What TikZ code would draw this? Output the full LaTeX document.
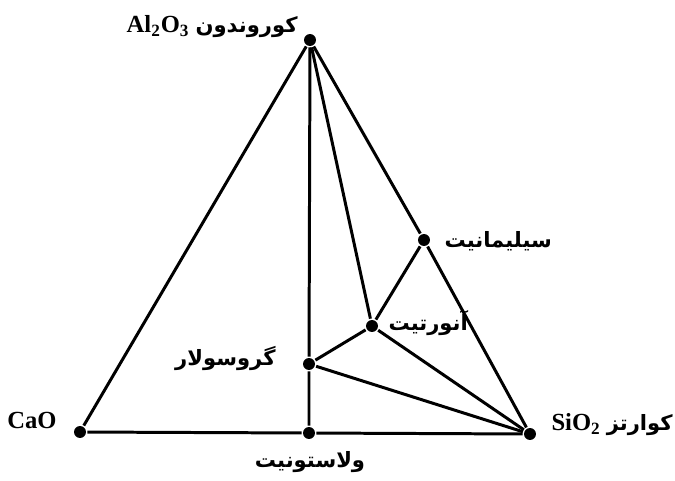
\documentclass[tikz,border=0pt]{standalone}
\usepackage{fontspec}
\setmainfont{Liberation Serif}
\newfontfamily\persianfont[Script=Arabic]{DejaVu Sans}
\TeXXeTstate=1
\usetikzlibrary{positioning}

\newcommand{\fa}[1]{{\persianfont\fontsize{12}{14}\selectfont\beginR #1\endR}}

\begin{document}
\begin{tikzpicture}[x=0.02cm, y=-0.02cm, line width=1.7pt,
  dot/.style={circle, fill=black, inner sep=0pt, minimum size=6.8pt},
  lbl/.style={inner sep=0pt, font=\fontsize{14}{16}\selectfont\bfseries}]
\path[use as bounding box] (0,0) rectangle (675,480);
% end members
\node[dot] (al) at (310,40) {};
\node[dot] (cao) at (80,432) {};
\node[dot] (si) at (530,434) {};
% minerals
\node[dot] (sil) at (424,240) {};
\node[dot] (an) at (372,326) {};
\node[dot] (gro) at (309,364) {};
\node[dot] (wol) at (309,433) {};
% triangle and tie lines
\draw (al) -- (cao) -- (wol) -- (si) -- (sil) -- (al);
\draw (al) -- (gro) -- (wol);
\draw (al) -- (an) -- (si);
\draw (sil) -- (an) -- (gro) -- (si);
% labels
\node[lbl, anchor=east] (al-lbl) at (299,27) {Al\textsubscript{2}O\textsubscript{3} \fa{کوروندون}};
\node[lbl, anchor=east] (cao-lbl) at (58,420) {CaO};
\node[lbl, anchor=west] (si-lbl) at (550,425) {SiO\textsubscript{2} \fa{کوارتز}};
\node[lbl, anchor=west] (sil-lbl) at (443,241) {\fa{سیلیمانیت}};
\node[lbl, anchor=west] (an-lbl) at (387,323) {\fa{آنورتیت}};
\node[lbl, anchor=east] (gro-lbl) at (277,358) {\fa{گروسولار}};
\node[lbl] (wol-lbl) at (310,462) {\fa{ولاستونیت}};
\end{tikzpicture}
\end{document}
